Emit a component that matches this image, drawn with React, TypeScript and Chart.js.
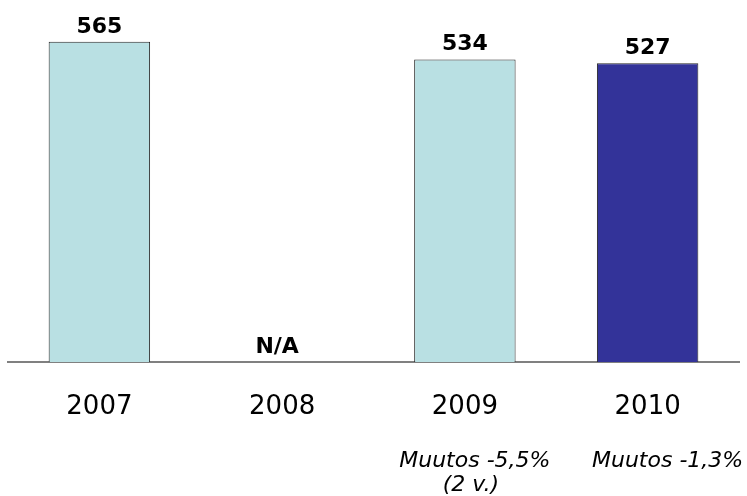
import React, { useEffect, useRef } from "react";
import { Chart, registerables } from "chart.js";

Chart.register(...registerables);

const categories = ["2007", "2008", "2009", "2010"];
const values: (number | null)[] = [565, null, 534, 527];
const valueLabels = ["565", "N/A", "534", "527"];
const notes: string[][] = [[], [], ["Muutos -5,5%", "(2 v.)"], ["Muutos -1,3%"]];
const barColors = ["#B9E0E3", "#B9E0E3", "#B9E0E3", "#333399"];

const FONT = "'DejaVu Sans', Verdana, sans-serif";
const noteOffsets: number[][] = [[], [], [10, 6], [20]];
const valueLabelOffsets = [0, -5, 0, 0];

export default function App() {
  const ref = useRef<HTMLCanvasElement | null>(null);

  useEffect(() => {
    document.body.style.margin = "0";
    const canvas = ref.current;
    if (!canvas) return;

    const labelPlugin = {
      id: "labels",
      afterDatasetsDraw(chart: any) {
        const ctx = chart.ctx;
        const xs = chart.scales.x;
        const ys = chart.scales.y;
        ctx.save();
        ctx.fillStyle = "#000";
        ctx.textAlign = "center";
        ctx.textBaseline = "alphabetic";
        ctx.font = `bold 22px ${FONT}`;
        categories.forEach((_, i) => {
          const x = xs.getPixelForValue(i) + valueLabelOffsets[i];
          const y = ys.getPixelForValue(values[i] ?? 0);
          ctx.fillText(valueLabels[i], x, y - 9);
        });
        ctx.font = `italic 22px ${FONT}`;
        categories.forEach((_, i) => {
          const x = xs.getPixelForValue(i);
          notes[i].forEach((line, j) => {
            ctx.fillText(line, x + noteOffsets[i][j], 467 + j * 24);
          });
        });
        ctx.restore();
      },
    };

    const chart = new Chart(canvas, {
      type: "bar",
      data: {
        labels: categories,
        datasets: [
          {
            data: values,
            backgroundColor: barColors,
            borderColor: "#262626",
            borderWidth: 1,
            barPercentage: 0.555,
            categoryPercentage: 1,
          },
        ],
      },
      options: {
        responsive: false,
        animation: false,
        layout: { padding: { top: 22, left: 8, right: 8, bottom: 0 } },
        plugins: {
          legend: { display: false },
          tooltip: { enabled: false },
        },
        scales: {
          x: {
            grid: { display: false, drawTicks: false },
            border: { display: true, color: "#808080", width: 2 },
            ticks: {
              color: "#000",
              font: { family: FONT, size: 26 },
              padding: 30,
            },
            afterFit: (s: any) => {
              s.height = 134;
            },
          },
          y: {
            display: false,
            min: 0,
            max: 600,
          },
        },
      },
      plugins: [labelPlugin],
    });
    return () => chart.destroy();
  }, []);

  return (
    <div style={{ position: "absolute", left: 0, top: 0, width: 747, height: 496 }}>
      <canvas ref={ref} width={747} height={496} />
    </div>
  );
}
